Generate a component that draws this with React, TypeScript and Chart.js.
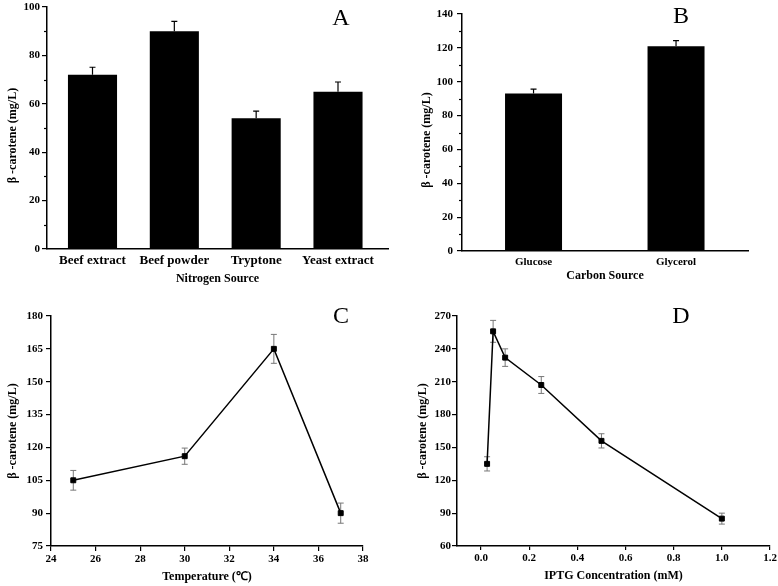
import React, { useEffect, useRef } from "react";
import { Chart, registerables } from "chart.js";
Chart.register(...registerables);

const nitrogenSources = ["Beef extract", "Beef powder", "Tryptone", "Yeast extract"];
const nitrogenValues = [72, 90, 54, 65];
const nitrogenErrors = [3.1, 4.1, 3, 4];

const carbonSources = ["Glucose", "Glycerol"];
const carbonValues = [93, 121];
const carbonErrors = [2.6, 3.3];

const temperatures = [25, 30, 34, 37];
const temperatureValues = [105, 116, 165, 90];
const temperatureErrors = [4.5, 3.7, 6.6, 4.6];

const iptgConcentrations = [0.025, 0.05, 0.1, 0.25, 0.5, 1.0];
const iptgValues = [135, 256, 232, 207, 156, 85];
const iptgErrors = [6.5, 10, 8, 7.7, 6.5, 5];

const yTitle = "β -carotene (mg/L)";

const FAMILY = "'Liberation Serif', 'Times New Roman', serif";

function drawErrors(chart: any, opts: any) {
  const errs = opts && opts.errors;
  if (!errs) return;
  const meta = chart.getDatasetMeta(0);
  const ys = chart.scales.y;
  const ctx = chart.ctx;
  const data = chart.data.datasets[0].data;
  const cap = opts.cap || 3;
  ctx.save();
  ctx.strokeStyle = opts.color || "#000";
  ctx.lineWidth = opts.lineWidth || 1;
  meta.data.forEach((el: any, i: number) => {
    const raw = data[i];
    const v = typeof raw === "number" ? raw : raw.y;
    const x = el.x;
    const top = ys.getPixelForValue(v + errs[i]);
    const bottom = opts.upperOnly ? ys.getPixelForValue(v) : ys.getPixelForValue(v - errs[i]);
    ctx.beginPath();
    ctx.moveTo(x, top);
    ctx.lineTo(x, bottom);
    ctx.moveTo(x - cap, top);
    ctx.lineTo(x + cap, top);
    if (!opts.upperOnly) {
      ctx.moveTo(x - cap, bottom);
      ctx.lineTo(x + cap, bottom);
    }
    ctx.stroke();
  });
  ctx.restore();
}

const errorBarPlugin = {
  id: "errorBars",
  beforeDatasetsDraw(chart: any, _a: any, opts: any) {
    if (opts && opts.layer === "before") drawErrors(chart, opts);
  },
  afterDatasetsDraw(chart: any, _a: any, opts: any) {
    if (opts && opts.layer !== "before") drawErrors(chart, opts);
  },
};

const minorTickPlugin = {
  id: "minorTicks",
  afterDraw(chart: any, _a: any, opts: any) {
    if (!opts || !opts.step) return;
    const ys = chart.scales.y;
    const ctx = chart.ctx;
    ctx.save();
    ctx.strokeStyle = "#000";
    ctx.lineWidth = 1.2;
    for (let v = ys.min + opts.step / 2; v < ys.max; v += opts.step) {
      const y = Math.round(ys.getPixelForValue(v)) + 0.5;
      ctx.beginPath();
      ctx.moveTo(ys.right, y);
      ctx.lineTo(ys.right - 3, y);
      ctx.stroke();
    }
    ctx.restore();
  },
};

function yAxis(min: number, max: number, step: number, width: number, titlePad: number, tickPad: number, titleText: string) {
  return {
    type: "linear",
    min,
    max,
    ticks: { stepSize: step, padding: tickPad, color: "#000", font: { family: FAMILY, size: 11, weight: "bold" } },
    grid: { display: true, drawOnChartArea: false, drawTicks: true, tickLength: 5, color: "#000", lineWidth: 1.2 },
    border: { display: true, color: "#000", width: 1.5 },
    title: {
      display: true,
      text: titleText,
      color: "#000",
      font: { family: FAMILY, size: 12, weight: "bold" },
      padding: { top: titlePad, bottom: 0 },
    },
    afterFit(scale: any) {
      scale.width = width;
      scale.paddingTop = 0;
      scale.paddingBottom = 0;
    },
  };
}

function xTitle(text: string, padBottom: number) {
  return {
    display: true,
    text,
    color: "#000",
    font: { family: FAMILY, size: 12, weight: "bold" },
    padding: { top: 0, bottom: padBottom },
  };
}

function fixHeight(h: number) {
  return (scale: any) => {
    scale.height = h;
    scale.paddingLeft = 0;
    scale.paddingRight = 0;
  };
}

function configA(): any {
  return {
    type: "bar",
    data: {
      datasets: [
        {
          data: nitrogenValues.map((v, i) => ({ x: i + 1, y: v })),
          backgroundColor: "#000",
          borderWidth: 0,
          barPercentage: 0.6,
          categoryPercentage: 1,
        },
      ],
    },
    plugins: [errorBarPlugin, minorTickPlugin],
    options: {
      responsive: false,
      animation: false,
      layout: { padding: { left: 0, top: 7, right: 2, bottom: 0 } },
      plugins: {
        legend: { display: false },
        tooltip: { enabled: false },
        errorBars: { errors: nitrogenErrors, upperOnly: true, color: "#000", lineWidth: 1.2, cap: 3 },
        minorTicks: { step: 20 },
      },
      scales: {
        x: {
          type: "linear",
          offset: false,
          min: 0.444,
          max: 4.611,
          afterBuildTicks(scale: any) {
            scale.ticks = nitrogenSources.map((_, i) => ({ value: i + 1 }));
          },
          ticks: {
            autoSkip: false,
            maxRotation: 0,
            padding: 4,
            color: "#000",
            font: { family: FAMILY, size: 13, weight: "bold" },
            callback: (v: number) => nitrogenSources[Math.round(v) - 1] ?? "",
          },
          grid: { display: false, drawTicks: false },
          border: { display: true, color: "#000", width: 1.5 },
          title: xTitle("Nitrogen Source", 4),
          afterFit: fixHeight(41),
        },
        y: yAxis(0, 100, 20, 47, 6, 2, yTitle + "     "),
      },
    },
  };
}

function configB(): any {
  return {
    type: "bar",
    data: {
      datasets: [
        {
          data: carbonValues.map((v, i) => ({ x: i + 1, y: v })),
          backgroundColor: "#000",
          borderWidth: 0,
          barPercentage: 0.4,
          categoryPercentage: 1,
        },
      ],
    },
    plugins: [errorBarPlugin, minorTickPlugin],
    options: {
      responsive: false,
      animation: false,
      layout: { padding: { left: 0, top: 14, right: 30, bottom: 0 } },
      plugins: {
        legend: { display: false },
        tooltip: { enabled: false },
        errorBars: { errors: carbonErrors, upperOnly: true, color: "#000", lineWidth: 1.2, cap: 3 },
        minorTicks: { step: 20 },
      },
      scales: {
        x: {
          type: "linear",
          offset: false,
          min: 0.498,
          max: 2.505,
          afterBuildTicks(scale: any) {
            scale.ticks = carbonSources.map((_, i) => ({ value: i + 1 }));
          },
          ticks: {
            autoSkip: false,
            maxRotation: 0,
            padding: 5,
            color: "#000",
            font: { family: FAMILY, size: 11, weight: "bold" },
            callback: (v: number) => carbonSources[Math.round(v) - 1] ?? "",
          },
          grid: { display: false, drawTicks: false },
          border: { display: true, color: "#000", width: 1.5 },
          title: xTitle("Carbon Source", 7),
          afterFit: fixHeight(39),
        },
        y: yAxis(0, 140, 20, 72, 30, 4, yTitle + "     "),
      },
    },
  };
}

function lineDataset(xs: number[], ys: number[]) {
  return {
    data: xs.map((x, i) => ({ x, y: ys[i] })),
    borderColor: "#000",
    borderWidth: 1.5,
    backgroundColor: "#000",
    pointStyle: "rect",
    pointRadius: 3.5,
    pointBackgroundColor: "#000",
    pointBorderColor: "#000",
    pointBorderWidth: 1,
    tension: 0,
    fill: false,
  };
}

function configC(): any {
  return {
    type: "line",
    data: { datasets: [lineDataset(temperatures, temperatureValues)] },
    plugins: [errorBarPlugin],
    options: {
      responsive: false,
      animation: false,
      layout: { padding: { left: 0, top: 26, right: 27, bottom: 0 } },
      plugins: {
        legend: { display: false },
        tooltip: { enabled: false },
        errorBars: { errors: temperatureErrors, upperOnly: false, color: "#777", lineWidth: 1, cap: 3, layer: "before" },
      },
      scales: {
        x: {
          type: "linear",
          min: 24,
          max: 38,
          ticks: { stepSize: 2, padding: 2, color: "#000", font: { family: FAMILY, size: 11, weight: "bold" } },
          grid: { display: true, drawOnChartArea: false, drawTicks: true, tickLength: 5, color: "#000", lineWidth: 1.2 },
          border: { display: true, color: "#000", width: 1.5 },
          title: xTitle("Temperature (℃)", 2),
          afterFit: fixHeight(40),
        },
        y: yAxis(75, 180, 15, 51, 6, 3, yTitle),
      },
    },
  };
}

function configD(): any {
  return {
    type: "line",
    data: { datasets: [lineDataset(iptgConcentrations, iptgValues)] },
    plugins: [errorBarPlugin],
    options: {
      responsive: false,
      animation: false,
      layout: { padding: { left: 0, top: 26, right: 8, bottom: 0 } },
      plugins: {
        legend: { display: false },
        tooltip: { enabled: false },
        errorBars: { errors: iptgErrors, upperOnly: false, color: "#777", lineWidth: 1, cap: 3, layer: "before" },
      },
      scales: {
        x: {
          type: "linear",
          min: -0.1,
          max: 1.2,
          ticks: {
            stepSize: 0.2,
            includeBounds: false,
            padding: 2,
            color: "#000",
            font: { family: FAMILY, size: 11, weight: "bold" },
            callback: (v: number) => Number(v).toFixed(1),
          },
          grid: { display: true, drawOnChartArea: false, drawTicks: true, tickLength: 4, color: "#000", lineWidth: 1.2 },
          border: { display: true, color: "#000", width: 1.5 },
          title: xTitle("IPTG Concentration (mM)", 3),
          afterFit: fixHeight(40),
        },
        y: yAxis(60, 270, 30, 67, 26, 1, yTitle),
      },
    },
  };
}

function Panel(props: { left: number; top: number; width: number; height: number; make: () => any }) {
  const ref = useRef<HTMLCanvasElement | null>(null);
  useEffect(() => {
    if (!ref.current) return;
    const chart = new Chart(ref.current, props.make());
    return () => chart.destroy();
  }, []);
  return (
    <canvas
      ref={ref}
      width={props.width}
      height={props.height}
      style={{ position: "absolute", left: props.left, top: props.top, width: props.width, height: props.height }}
    />
  );
}

function Letter(props: { x: number; y: number; text: string }) {
  return (
    <div
      style={{
        position: "absolute",
        left: props.x - 20,
        top: props.y - 12,
        width: 40,
        height: 24,
        lineHeight: "24px",
        textAlign: "center",
        fontFamily: FAMILY,
        fontSize: 24,
        color: "#000",
      }}
    >
      {props.text}
    </div>
  );
}

export default function App() {
  return (
    <div style={{ position: "fixed", left: 0, top: 0, width: 778, height: 586, background: "#fff", overflow: "hidden" }}>
      <Panel left={0} top={0} width={390} height={290} make={configA} />
      <Panel left={390} top={0} width={388} height={290} make={configB} />
      <Panel left={0} top={290} width={390} height={296} make={configC} />
      <Panel left={390} top={290} width={388} height={296} make={configD} />
      <Letter x={341} y={17} text="A" />
      <Letter x={681} y={15} text="B" />
      <Letter x={341} y={315} text="C" />
      <Letter x={681} y={315} text="D" />
    </div>
  );
}
